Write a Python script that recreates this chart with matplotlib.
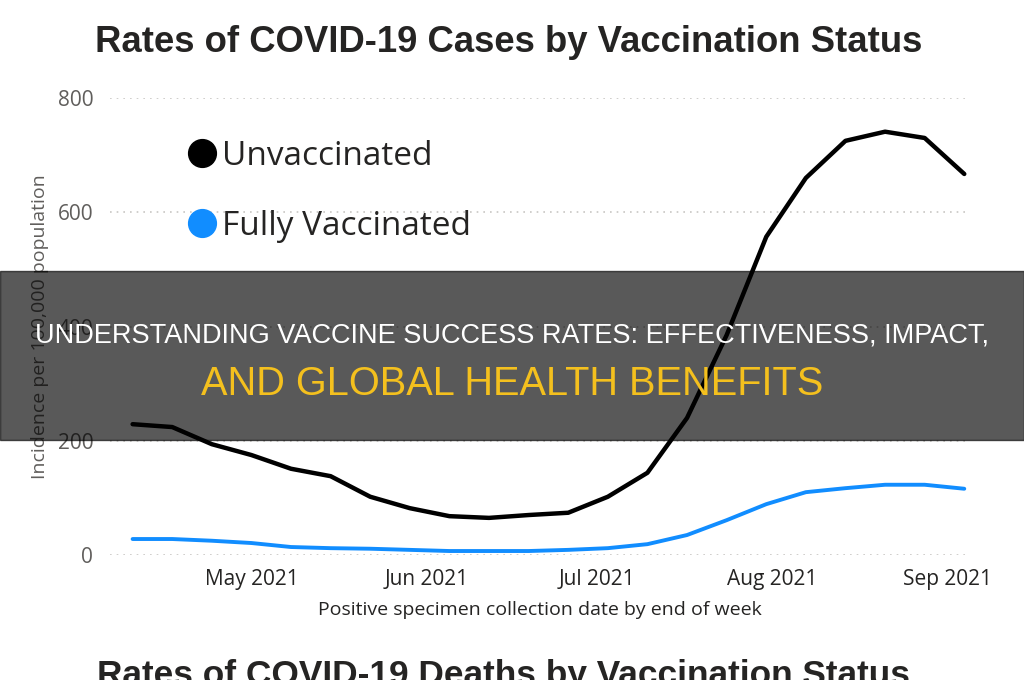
import matplotlib
matplotlib.use("Agg")
import matplotlib.pyplot as plt
import matplotlib.dates as mdates
from matplotlib.lines import Line2D
from matplotlib.patches import Rectangle
import pandas as pd

# week-ending dates (Saturdays)
weeks = ["2021-04-10", "2021-04-17", "2021-04-24", "2021-05-01", "2021-05-08",
         "2021-05-15", "2021-05-22", "2021-05-29", "2021-06-05", "2021-06-12",
         "2021-06-19", "2021-06-26", "2021-07-03", "2021-07-10", "2021-07-17",
         "2021-07-24", "2021-07-31", "2021-08-07", "2021-08-14", "2021-08-21",
         "2021-08-28", "2021-09-04"]
unvaccinated = [229, 224, 194, 175, 151, 138, 102, 82, 68, 65, 70,
                74, 102, 144, 240, 385, 557, 660, 725, 741, 730, 667]
fully_vaccinated = [28, 28, 25, 21, 14, 12, 11, 9, 7, 7, 7,
                    9, 12, 19, 35, 61, 89, 110, 117, 123, 123, 116]
y_ticks = [0, 200, 400, 600, 800]
month_ticks = ["2021-05-01", "2021-06-01", "2021-07-01", "2021-08-01", "2021-09-01"]

title = "Rates of COVID-19 Cases by Vaccination Status"
next_title = "Rates of COVID-19 Deaths by Vaccination Status"
banner_1 = "UNDERSTANDING VACCINE SUCCESS RATES: EFFECTIVENESS, IMPACT,"
banner_2 = "AND GLOBAL HEALTH BENEFITS"

plt.rcParams['font.family'] = ['Open Sans', 'DejaVu Sans']
narrow = ['Liberation Sans', 'DejaVu Sans']

dates = pd.to_datetime(weeks)
fig = plt.figure(figsize=(10.24, 6.8), dpi=100)
ax = fig.add_axes([0.1074, 0.1838, 0.8398, 0.6721])

ax.plot(dates, unvaccinated, color='black', lw=3.2, solid_joinstyle='round',
        solid_capstyle='round', clip_on=False, zorder=3)
ax.plot(dates, fully_vaccinated, color='#118DFF', lw=2.8, solid_joinstyle='round',
        solid_capstyle='round', clip_on=False, zorder=3)

ax.set_ylim(0, 800)
ax.set_xlim(pd.Timestamp("2021-04-06"), pd.Timestamp("2021-09-05"))
ax.set_yticks(y_ticks)
ax.set_xticks(pd.to_datetime(month_ticks))
ax.xaxis.set_major_formatter(mdates.DateFormatter("%b %Y"))
ax.grid(axis='y', color='#C8C6C4', linestyle=(0, (1, 3)), lw=1.2)
ax.grid(axis='x', visible=False)
for s in ax.spines.values():
    s.set_visible(False)
ax.tick_params(length=0)
ax.tick_params(axis='y', labelsize=15, labelcolor='#605E5C', pad=12)
ax.tick_params(axis='x', labelsize=15, labelcolor='#252423', pad=10)
ax.set_ylabel("Incidence per 100,000 population", fontsize=14, color='#605E5C', labelpad=6)
ax.set_xlabel("Positive specimen collection date by end of week", fontsize=14,
              color='#252423', labelpad=8)

handles = [Line2D([], [], marker='o', ls='', color='black', markersize=20),
           Line2D([], [], marker='o', ls='', color='#118DFF', markersize=20)]
ax.legend(handles, ["Unvaccinated", "Fully Vaccinated"], loc='upper left',
          bbox_to_anchor=(0.092, 0.908), frameon=False, fontsize=24,
          handlelength=0.8, handletextpad=0.2, labelspacing=1.1,
          borderaxespad=0, borderpad=0, labelcolor='#252423')

fig.text(0.0928, 0.9235, title, ha='left', va='baseline', fontsize=26.3,
         fontweight='bold', color='#252423', family=narrow)
fig.text(0.0947, -0.008, next_title, ha='left', va='baseline', fontsize=25.4,
         fontweight='bold', color='#252423', family=narrow)

# dark banner over the chart
fig.patches.append(Rectangle((0, 0.3529), 1, 0.2486, transform=fig.transFigure,
                             color='black', alpha=0.65, zorder=10))
fig.text(0.5, 0.4956, banner_1, ha='center', va='baseline', fontsize=19.5,
         color='white', family=narrow, zorder=11)
fig.text(0.5, 0.4191, banner_2, ha='center', va='baseline', fontsize=28.6,
         color='#F4C01E', family=narrow, zorder=11)

plt.savefig('out.png', dpi=100)
